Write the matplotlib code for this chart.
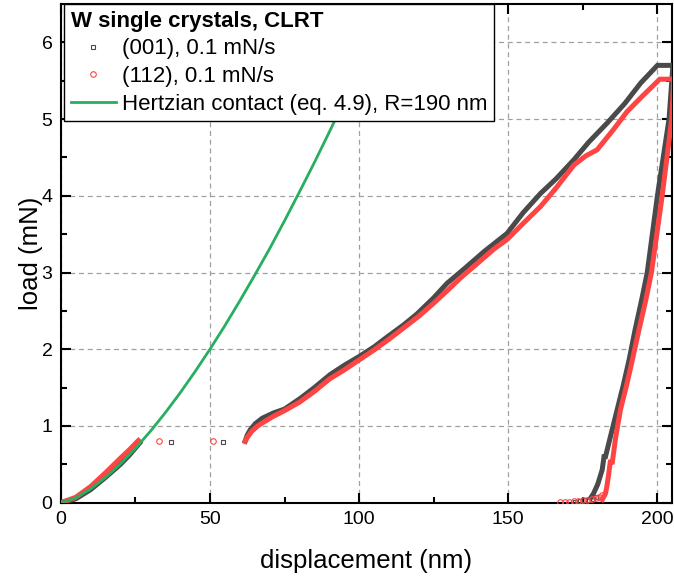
import matplotlib
matplotlib.use("Agg")
import matplotlib.pyplot as plt
from matplotlib.lines import Line2D

plt.rcParams['font.family'] = ['Liberation Sans', 'DejaVu Sans']

# ---- data ----
# Hertzian contact model (eq. 4.9), R = 190 nm
hertz_h = [0, 5, 10, 15, 20, 25, 30, 35, 40, 45, 50, 55, 60, 65, 70, 75, 80, 85, 90, 95, 100, 105, 110]
hertz_P = [0, 0.063, 0.179, 0.329, 0.506, 0.707, 0.929, 1.171, 1.431, 1.708, 2.0, 2.307, 2.63, 2.965,
           3.31, 3.674, 4.05, 4.433, 4.83, 5.238, 5.66, 6.09, 6.53]

# (001), 0.1 mN/s  -- elastic part, pop-in points, elasto-plastic loading, hold, unloading
s001_el_h = [0, 5, 10, 15, 20, 23, 26.5]
s001_el_P = [0, 0.05, 0.17, 0.33, 0.50, 0.62, 0.78]
s001_pop_h = [36.9, 54.3]
s001_pop_P = [0.79, 0.79]
s001_pl_h = [61.8, 62.5, 63.5, 65.2, 67.5, 71.3, 75, 80.3, 85, 90.3, 95, 99.8, 105, 109.4, 115, 119.4,
             125, 129.5, 135, 141.8, 149.6, 155, 160.8, 166, 172.0, 177, 183.2, 189, 194.4, 200, 205.2]
s001_pl_P = [0.80, 0.88, 0.95, 1.03, 1.10, 1.17, 1.22, 1.36, 1.50, 1.67, 1.79, 1.90, 2.03, 2.16, 2.32, 2.46,
             2.67, 2.86, 3.04, 3.27, 3.51, 3.78, 4.03, 4.22, 4.47, 4.70, 4.95, 5.20, 5.47, 5.70, 5.70]
s001_un_h = [205.2, 203.9, 200.0, 196.6, 194.7, 192.5, 190.5, 188.5, 186.5, 184.5, 182.6, 182.1, 181.5, 180.0, 178.6, 177.6]
s001_un_P = [5.70, 5.00, 4.00, 3.00, 2.64, 2.25, 1.86, 1.52, 1.21, 0.90, 0.60, 0.60, 0.43, 0.24, 0.12, 0.06]
s001_tail_h = [172.5, 174, 175.5, 177, 178.5, 179.5]
s001_tail_P = [0.01, 0.02, 0.03, 0.04, 0.05, 0.07]

# (112), 0.1 mN/s
s112_el_h = [0, 5, 10, 15, 20, 23, 26.0]
s112_el_P = [0, 0.07, 0.21, 0.39, 0.58, 0.69, 0.81]
s112_pop_h = [33.0, 51.0]
s112_pop_P = [0.80, 0.80]
s112_pl_h = [61.8, 62.5, 64, 66, 68, 71, 75, 80, 85, 90, 95, 100, 105, 110, 115, 120, 125, 130, 134, 140,
             145, 149.6, 155, 160.8, 166, 172, 176, 179.8, 185, 189.9, 195, 200.8, 205.5]
s112_pl_P = [0.80, 0.85, 0.93, 1.00, 1.05, 1.12, 1.20, 1.31, 1.45, 1.61, 1.73, 1.86, 1.99, 2.13, 2.28, 2.43,
             2.60, 2.78, 2.93, 3.13, 3.30, 3.43, 3.64, 3.86, 4.10, 4.40, 4.52, 4.60, 4.85, 5.10, 5.30, 5.52, 5.52]
s112_un_h = [205.5, 204.8, 201.6, 198.0, 196.1, 193.8, 191.6, 189.6, 187.6, 186.0, 184.9, 184.2, 183.6, 183.0, 182.6, 181.5]
s112_un_P = [5.52, 5.00, 4.00, 3.00, 2.64, 2.25, 1.86, 1.52, 1.21, 0.85, 0.53, 0.53, 0.35, 0.20, 0.12, 0.04]
s112_tail_h = [167.5, 169, 170.5, 172, 173.5, 175, 176.5, 178, 179.5, 180.5, 181.5]
s112_tail_P = [0.005, 0.01, 0.015, 0.02, 0.025, 0.03, 0.04, 0.05, 0.06, 0.08, 0.10]

# ---- styling ----
C001 = '#4a4a4a'
C112 = '#ff4444'
CHZ = '#27ae60'
LW = 3.6

fig = plt.figure(figsize=(6.74, 5.79), dpi=100)
ax = fig.add_axes([0.0902, 0.1318, 0.9073, 0.8613])

# (001)
for h, P in [(s001_el_h, s001_el_P), (s001_pl_h, s001_pl_P), (s001_un_h, s001_un_P)]:
    ax.plot(h, P, color=C001, lw=LW, solid_joinstyle='miter', zorder=3)
ax.plot(s001_pop_h, s001_pop_P, ls='none', marker='s', ms=3.5, mfc='none', mec=C001, mew=0.8, zorder=3)
ax.plot(s001_tail_h, s001_tail_P, ls='none', marker='s', ms=3.5, mfc='none', mec=C001, mew=0.8, zorder=3)

# (112)
for h, P in [(s112_el_h, s112_el_P), (s112_pl_h, s112_pl_P), (s112_un_h, s112_un_P)]:
    ax.plot(h, P, color=C112, lw=LW, solid_joinstyle='miter', zorder=4)
ax.plot(s112_pop_h, s112_pop_P, ls='none', marker='o', ms=4, mfc='none', mec=C112, mew=0.8, zorder=4)
ax.plot(s112_tail_h, s112_tail_P, ls='none', marker='o', ms=4, mfc='none', mec=C112, mew=0.8, zorder=4)

# Hertz
ax.plot(hertz_h, hertz_P, color=CHZ, lw=2.0, zorder=5)

ax.set_xlim(0, 205)
ax.set_ylim(0, 6.5)
ax.set_xticks([0, 50, 100, 150, 200])
ax.set_xticks([25, 75, 125, 175], minor=True)
ax.set_yticks([0, 1, 2, 3, 4, 5, 6])
ax.set_yticks([0.5, 1.5, 2.5, 3.5, 4.5, 5.5], minor=True)
ax.tick_params(which='both', direction='in', top=True, right=True, width=1.5, labelsize=14, pad=6)
ax.tick_params(which='major', length=7)
ax.tick_params(which='minor', length=4.5)
for sp in ax.spines.values():
    sp.set_linewidth(1.5)
ax.grid(True, which='major', color='#a0a0a0', ls=(0, (4, 3)), lw=0.9)
ax.set_axisbelow(True)

ax.set_xlabel('displacement (nm)', fontsize=18.5, labelpad=15)
ax.set_ylabel('load (mN)', fontsize=18.5, labelpad=-1)

handles = [
    Line2D([], [], ls='none', marker='s', ms=3.5, mfc='none', mec=C001, mew=0.8),
    Line2D([], [], ls='none', marker='o', ms=4, mfc='none', mec=C112, mew=0.8),
    Line2D([], [], color=CHZ, lw=2.0),
]
labels = ['(001), 0.1 mN/s', '(112), 0.1 mN/s', 'Hertzian contact (eq. 4.9), R=190 nm']
leg = ax.legend(handles, labels, loc='upper left', bbox_to_anchor=(0.006, 1.0), borderaxespad=0,
                fontsize=16, title='W single crystals, CLRT', title_fontproperties={'weight': 'bold', 'size': 16},
                alignment='left', frameon=True, fancybox=False, edgecolor='black', framealpha=1,
                handlelength=2.0, handletextpad=0.3, borderpad=0.3, labelspacing=0.3)
leg.get_frame().set_linewidth(1.0)
leg.set_zorder(10)

fig.savefig('out.png', dpi=100)
